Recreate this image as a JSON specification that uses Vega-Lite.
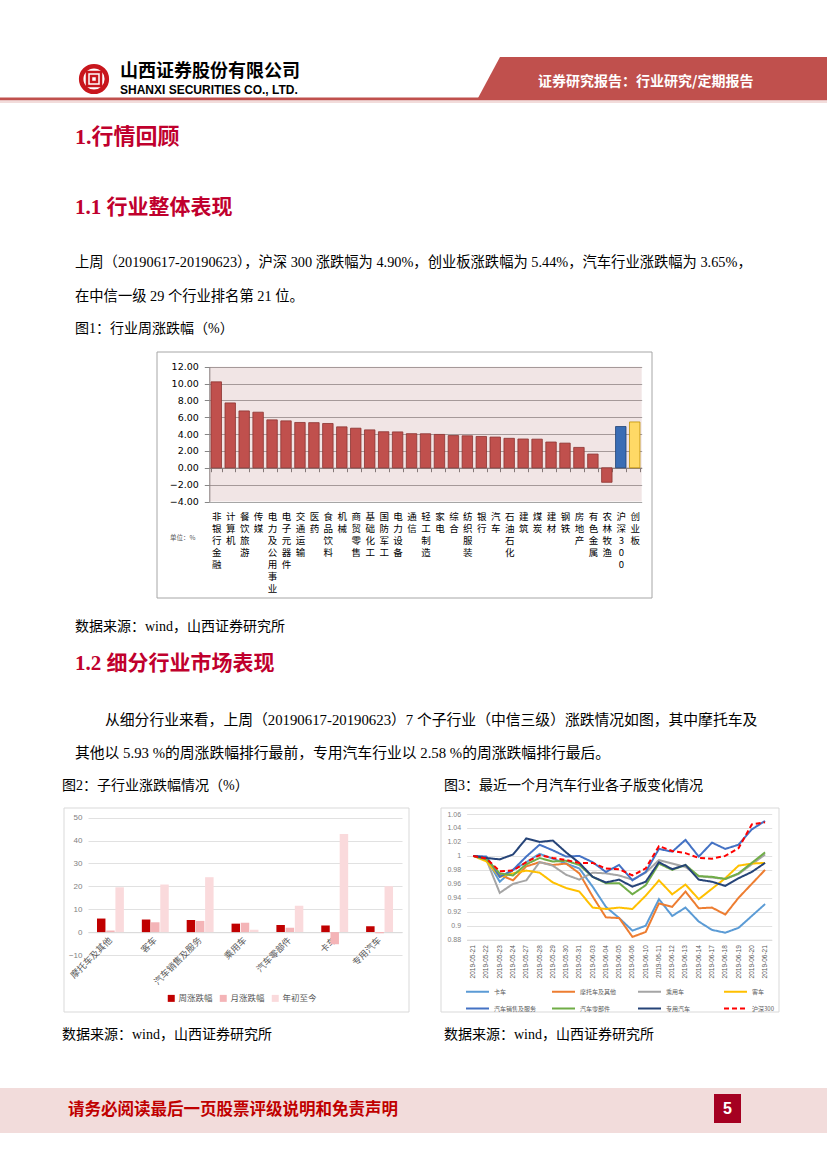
{
"$schema": "https://vega.github.io/schema/vega-lite/v6.json",
"width": 827, "height": 1169, "padding": 0, "autosize": {"type": "none"},
"background": "white",
"config": {"view": {"stroke": null}},
"data": {"values": [{}]},
"resolve": {"scale": {"x": "independent", "y": "independent", "color": "independent", "fill": "independent", "stroke": "independent", "strokeDash": "independent"}},
"layer": [
{"mark": {"type": "rect", "x": 0, "x2": 827, "y": 97.5, "y2": 100.5, "fill": "#C0504D"}},
{"mark": {"type": "rect", "x": 0, "x2": 827, "y": 100.5, "y2": 103, "fill": "#F2DCDB"}},
{"mark": {"type": "point", "shape": "M500,57L827,57L827,98L478,98Z", "size": 4, "x": 0, "y": 0, "filled": true, "fill": "#C0504D", "strokeWidth": 0, "opacity": 1}},
{"mark": {"type": "point", "shape": "circle", "size": 660, "x": 94, "y": 79, "filled": false, "stroke": "#C8161D", "strokeWidth": 4.5, "opacity": 1}},
{"mark": {"type": "point", "shape": "M-7,-7H7V7H-7Z M-3,-3H3V3H-3Z", "size": 4, "x": 94, "y": 79, "filled": false, "stroke": "#C8161D", "strokeWidth": 2.5, "opacity": 1}},
{"mark": {"type": "rect", "x": 157, "x2": 652, "y": 352, "y2": 598, "fill": null, "stroke": "#A6A6A6", "strokeWidth": 1}},
{"mark": {"type": "rect", "x": 209.3, "x2": 641.7, "y": 366.7, "y2": 501.5, "fill": "#A25252", "fillOpacity": 0.15}},
{"mark": {"type": "rect", "x": 64, "x2": 409, "y": 808, "y2": 1012, "fill": null, "stroke": "#D9D9D9", "strokeWidth": 1}},
{"mark": {"type": "rect", "x": 441, "x2": 779, "y": 808, "y2": 1012, "fill": null, "stroke": "#D9D9D9", "strokeWidth": 1}},
{"mark": {"type": "rule", "x": 73, "x2": 755, "y": 346.5, "y2": 346.5, "stroke": "#000000", "strokeWidth": 1.2}, "encoding": {}},
{"mark": {"type": "rule", "x": 73, "x2": 770, "y": 607.5, "y2": 607.5, "stroke": "#000000", "strokeWidth": 1.2}, "encoding": {}},
{"mark": {"type": "rule", "x": 60, "x2": 418, "y": 801, "y2": 801, "stroke": "#000000", "strokeWidth": 1.2}, "encoding": {}},
{"mark": {"type": "rule", "x": 441, "x2": 781, "y": 801, "y2": 801, "stroke": "#000000", "strokeWidth": 1.2}, "encoding": {}},
{"mark": {"type": "rect", "x": 0, "x2": 827, "y": 1088, "y2": 1133, "fill": "#F2DCDB"}},
{"mark": {"type": "rect", "x": 714, "x2": 741, "y": 1094, "y2": 1123, "fill": "#A50021"}},
{
"data": {"values": [
{"industry": "非银行金融", "value": 10.2, "group": "行业"},
{"industry": "计算机", "value": 7.7, "group": "行业"},
{"industry": "餐饮旅游", "value": 6.75, "group": "行业"},
{"industry": "传媒", "value": 6.6, "group": "行业"},
{"industry": "电力及公用事业", "value": 5.69, "group": "行业"},
{"industry": "电子元器件", "value": 5.57, "group": "行业"},
{"industry": "交通运输", "value": 5.38, "group": "行业"},
{"industry": "医药", "value": 5.36, "group": "行业"},
{"industry": "食品饮料", "value": 5.26, "group": "行业"},
{"industry": "机械", "value": 4.86, "group": "行业"},
{"industry": "商贸零售", "value": 4.7, "group": "行业"},
{"industry": "基础化工", "value": 4.5, "group": "行业"},
{"industry": "国防军工", "value": 4.28, "group": "行业"},
{"industry": "电力设备", "value": 4.26, "group": "行业"},
{"industry": "通信", "value": 4.05, "group": "行业"},
{"industry": "轻工制造", "value": 4.04, "group": "行业"},
{"industry": "家电", "value": 3.96, "group": "行业"},
{"industry": "综合", "value": 3.83, "group": "行业"},
{"industry": "纺织服装", "value": 3.8, "group": "行业"},
{"industry": "银行", "value": 3.72, "group": "行业"},
{"industry": "汽车", "value": 3.65, "group": "行业"},
{"industry": "石油石化", "value": 3.5, "group": "行业"},
{"industry": "建筑", "value": 3.42, "group": "行业"},
{"industry": "煤炭", "value": 3.4, "group": "行业"},
{"industry": "建材", "value": 3.06, "group": "行业"},
{"industry": "钢铁", "value": 2.93, "group": "行业"},
{"industry": "房地产", "value": 2.42, "group": "行业"},
{"industry": "有色金属", "value": 1.63, "group": "行业"},
{"industry": "农林牧渔", "value": -1.72, "group": "行业"},
{"industry": "沪深300", "value": 4.9, "group": "沪深300"},
{"industry": "创业板", "value": 5.44, "group": "创业板"}
]},
"mark": {"type": "bar", "strokeWidth": 0.8},
"encoding": {
"x": {"field": "industry", "type": "nominal", "sort": null,
"scale": {"type": "band", "range": [209.3, 641.7], "paddingInner": 0.25, "paddingOuter": 0.125},
"axis": {"orient": "bottom", "offset": -701.3, "title": null, "grid": false, "domainColor": "#7F7F7F", "ticks": true, "tickBand": "extent", "tickColor": "#7F7F7F", "tickSize": 4, "labelAngle": 0, "labelAlign": "center", "labelBaseline": "top", "labelExpr": "split(datum.label, '')", "labelFont": "Noto Sans CJK SC", "labelFontSize": 9.5, "labelLineHeight": 12, "labelPadding": 40, "labelColor": "#000000", "labelOverlap": false}},
"y": {"field": "value", "type": "quantitative",
"scale": {"domain": [-4, 12], "range": [501.5, 366.7], "nice": false, "zero": false},
"axis": {"orient": "left", "offset": -209.3, "title": null, "values": [-4, -2, 0, 2, 4, 6, 8, 10, 12], "format": ".2f", "grid": true, "gridColor": "#A6A6A6", "gridWidth": 1, "domain": true, "domainColor": "#868686", "ticks": true, "tickColor": "#868686", "tickSize": 5, "labelPadding": 6, "labelFont": "DejaVu Sans", "labelFontSize": 9.5, "labelColor": "#000000"}},
"fill": {"field": "group", "type": "nominal", "scale": {"domain": ["行业", "沪深300", "创业板"], "range": ["#C0504D", "#3A6DB5", "#FFD966"]}, "legend": null},
"stroke": {"field": "group", "type": "nominal", "scale": {"domain": ["行业", "沪深300", "创业板"], "range": ["#8C3331", "#1F4173", "#C09000"]}, "legend": null}
}
},
{
"data": {"values": [
{"sub": "摩托车及其他", "metric": "周涨跌幅", "value": 5.93},
{"sub": "摩托车及其他", "metric": "月涨跌幅", "value": 0.7},
{"sub": "摩托车及其他", "metric": "年初至今", "value": 19.6},
{"sub": "客车", "metric": "周涨跌幅", "value": 5.5},
{"sub": "客车", "metric": "月涨跌幅", "value": 4.3},
{"sub": "客车", "metric": "年初至今", "value": 20.8},
{"sub": "汽车销售及服务", "metric": "周涨跌幅", "value": 5.3},
{"sub": "汽车销售及服务", "metric": "月涨跌幅", "value": 4.9},
{"sub": "汽车销售及服务", "metric": "年初至今", "value": 24.0},
{"sub": "乘用车", "metric": "周涨跌幅", "value": 3.7},
{"sub": "乘用车", "metric": "月涨跌幅", "value": 4.1},
{"sub": "乘用车", "metric": "年初至今", "value": 1.0},
{"sub": "汽车零部件", "metric": "周涨跌幅", "value": 3.1},
{"sub": "汽车零部件", "metric": "月涨跌幅", "value": 1.9},
{"sub": "汽车零部件", "metric": "年初至今", "value": 11.5},
{"sub": "卡车", "metric": "周涨跌幅", "value": 2.9},
{"sub": "卡车", "metric": "月涨跌幅", "value": -5.3},
{"sub": "卡车", "metric": "年初至今", "value": 42.9},
{"sub": "专用汽车", "metric": "周涨跌幅", "value": 2.58},
{"sub": "专用汽车", "metric": "月涨跌幅", "value": -0.5},
{"sub": "专用汽车", "metric": "年初至今", "value": 20.0}
]},
"mark": {"type": "bar"},
"encoding": {
"x": {"field": "sub", "type": "nominal", "sort": null,
"scale": {"type": "band", "range": [88, 402], "paddingInner": 0.4, "paddingOuter": 0.2},
"axis": {"orient": "bottom", "offset": -236.8, "title": null, "grid": false, "domainColor": "#D9D9D9", "ticks": false, "labelAngle": -45, "labelAlign": "right", "labelBaseline": "middle", "labelPadding": 6, "labelFont": "Noto Sans CJK SC", "labelFontSize": 9, "labelColor": "#595959"}},
"xOffset": {"field": "metric", "type": "nominal", "sort": ["周涨跌幅", "月涨跌幅", "年初至今"], "scale": {"paddingInner": 0.08}},
"y": {"field": "value", "type": "quantitative",
"scale": {"domain": [-10, 50], "range": [955, 817.7], "nice": false, "zero": false},
"axis": {"orient": "left", "offset": -88, "title": null, "values": [-10, 0, 10, 20, 30, 40, 50], "grid": true, "gridColor": "#D9D9D9", "gridWidth": 0.8, "domain": false, "ticks": false, "labelPadding": 6, "labelFont": "Liberation Sans", "labelFontSize": 8, "labelColor": "#7F7F7F"}},
"color": {"field": "metric", "type": "nominal", "sort": ["周涨跌幅", "月涨跌幅", "年初至今"],
"scale": {"domain": ["周涨跌幅", "月涨跌幅", "年初至今"], "range": ["#C00000", "#F4B4B7", "#FADADC"]},
"legend": {"orient": "none", "legendX": 167, "legendY": 994, "direction": "horizontal", "title": null, "symbolType": "square", "symbolSize": 49, "symbolStrokeWidth": 0, "labelFont": "Noto Sans CJK SC", "labelFontSize": 8.5, "labelColor": "#595959", "columnPadding": 6, "labelOffset": 3}}
}
},
{
"data": {"values": [
{"date": "2019-05-21", "series": "卡车", "value": 1.000},
{"date": "2019-05-22", "series": "卡车", "value": 0.996},
{"date": "2019-05-23", "series": "卡车", "value": 0.963},
{"date": "2019-05-24", "series": "卡车", "value": 0.980},
{"date": "2019-05-27", "series": "卡车", "value": 0.991},
{"date": "2019-05-28", "series": "卡车", "value": 1.003},
{"date": "2019-05-29", "series": "卡车", "value": 0.996},
{"date": "2019-05-30", "series": "卡车", "value": 0.989},
{"date": "2019-05-31", "series": "卡车", "value": 0.982},
{"date": "2019-06-03", "series": "卡车", "value": 0.956},
{"date": "2019-06-04", "series": "卡车", "value": 0.927},
{"date": "2019-06-05", "series": "卡车", "value": 0.911},
{"date": "2019-06-06", "series": "卡车", "value": 0.893},
{"date": "2019-06-10", "series": "卡车", "value": 0.900},
{"date": "2019-06-11", "series": "卡车", "value": 0.938},
{"date": "2019-06-12", "series": "卡车", "value": 0.914},
{"date": "2019-06-13", "series": "卡车", "value": 0.926},
{"date": "2019-06-14", "series": "卡车", "value": 0.906},
{"date": "2019-06-17", "series": "卡车", "value": 0.894},
{"date": "2019-06-18", "series": "卡车", "value": 0.890},
{"date": "2019-06-19", "series": "卡车", "value": 0.897},
{"date": "2019-06-20", "series": "卡车", "value": 0.914},
{"date": "2019-06-21", "series": "卡车", "value": 0.931},
{"date": "2019-05-21", "series": "摩托车及其他", "value": 1.000},
{"date": "2019-05-22", "series": "摩托车及其他", "value": 0.996},
{"date": "2019-05-23", "series": "摩托车及其他", "value": 0.973},
{"date": "2019-05-24", "series": "摩托车及其他", "value": 0.965},
{"date": "2019-05-27", "series": "摩托车及其他", "value": 0.985},
{"date": "2019-05-28", "series": "摩托车及其他", "value": 0.991},
{"date": "2019-05-29", "series": "摩托车及其他", "value": 0.987},
{"date": "2019-05-30", "series": "摩托车及其他", "value": 0.989},
{"date": "2019-05-31", "series": "摩托车及其他", "value": 0.975},
{"date": "2019-06-03", "series": "摩托车及其他", "value": 0.942},
{"date": "2019-06-04", "series": "摩托车及其他", "value": 0.912},
{"date": "2019-06-05", "series": "摩托车及其他", "value": 0.911},
{"date": "2019-06-06", "series": "摩托车及其他", "value": 0.884},
{"date": "2019-06-10", "series": "摩托车及其他", "value": 0.891},
{"date": "2019-06-11", "series": "摩托车及其他", "value": 0.932},
{"date": "2019-06-12", "series": "摩托车及其他", "value": 0.927},
{"date": "2019-06-13", "series": "摩托车及其他", "value": 0.949},
{"date": "2019-06-14", "series": "摩托车及其他", "value": 0.925},
{"date": "2019-06-17", "series": "摩托车及其他", "value": 0.926},
{"date": "2019-06-18", "series": "摩托车及其他", "value": 0.916},
{"date": "2019-06-19", "series": "摩托车及其他", "value": 0.940},
{"date": "2019-06-20", "series": "摩托车及其他", "value": 0.960},
{"date": "2019-06-21", "series": "摩托车及其他", "value": 0.980},
{"date": "2019-05-21", "series": "乘用车", "value": 1.000},
{"date": "2019-05-22", "series": "乘用车", "value": 0.994},
{"date": "2019-05-23", "series": "乘用车", "value": 0.947},
{"date": "2019-05-24", "series": "乘用车", "value": 0.960},
{"date": "2019-05-27", "series": "乘用车", "value": 0.965},
{"date": "2019-05-28", "series": "乘用车", "value": 0.991},
{"date": "2019-05-29", "series": "乘用车", "value": 0.986},
{"date": "2019-05-30", "series": "乘用车", "value": 0.973},
{"date": "2019-05-31", "series": "乘用车", "value": 0.966},
{"date": "2019-06-03", "series": "乘用车", "value": 0.976},
{"date": "2019-06-04", "series": "乘用车", "value": 0.975},
{"date": "2019-06-05", "series": "乘用车", "value": 0.972},
{"date": "2019-06-06", "series": "乘用车", "value": 0.966},
{"date": "2019-06-10", "series": "乘用车", "value": 0.976},
{"date": "2019-06-11", "series": "乘用车", "value": 0.994},
{"date": "2019-06-12", "series": "乘用车", "value": 0.989},
{"date": "2019-06-13", "series": "乘用车", "value": 0.984},
{"date": "2019-06-14", "series": "乘用车", "value": 0.971},
{"date": "2019-06-17", "series": "乘用车", "value": 0.969},
{"date": "2019-06-18", "series": "乘用车", "value": 0.967},
{"date": "2019-06-19", "series": "乘用车", "value": 0.974},
{"date": "2019-06-20", "series": "乘用车", "value": 0.988},
{"date": "2019-06-21", "series": "乘用车", "value": 1.002},
{"date": "2019-05-21", "series": "客车", "value": 1.000},
{"date": "2019-05-22", "series": "客车", "value": 0.992},
{"date": "2019-05-23", "series": "客车", "value": 0.970},
{"date": "2019-05-24", "series": "客车", "value": 0.975},
{"date": "2019-05-27", "series": "客车", "value": 0.979},
{"date": "2019-05-28", "series": "客车", "value": 0.976},
{"date": "2019-05-29", "series": "客车", "value": 0.962},
{"date": "2019-05-30", "series": "客车", "value": 0.954},
{"date": "2019-05-31", "series": "客车", "value": 0.949},
{"date": "2019-06-03", "series": "客车", "value": 0.926},
{"date": "2019-06-04", "series": "客车", "value": 0.924},
{"date": "2019-06-05", "series": "客车", "value": 0.926},
{"date": "2019-06-06", "series": "客车", "value": 0.924},
{"date": "2019-06-10", "series": "客车", "value": 0.943},
{"date": "2019-06-11", "series": "客车", "value": 0.965},
{"date": "2019-06-12", "series": "客车", "value": 0.945},
{"date": "2019-06-13", "series": "客车", "value": 0.959},
{"date": "2019-06-14", "series": "客车", "value": 0.938},
{"date": "2019-06-17", "series": "客车", "value": 0.953},
{"date": "2019-06-18", "series": "客车", "value": 0.968},
{"date": "2019-06-19", "series": "客车", "value": 0.986},
{"date": "2019-06-20", "series": "客车", "value": 0.989},
{"date": "2019-06-21", "series": "客车", "value": 0.990},
{"date": "2019-05-21", "series": "汽车销售及服务", "value": 1.000},
{"date": "2019-05-22", "series": "汽车销售及服务", "value": 0.999},
{"date": "2019-05-23", "series": "汽车销售及服务", "value": 0.970},
{"date": "2019-05-24", "series": "汽车销售及服务", "value": 0.980},
{"date": "2019-05-27", "series": "汽车销售及服务", "value": 0.999},
{"date": "2019-05-28", "series": "汽车销售及服务", "value": 1.016},
{"date": "2019-05-29", "series": "汽车销售及服务", "value": 1.008},
{"date": "2019-05-30", "series": "汽车销售及服务", "value": 0.999},
{"date": "2019-05-31", "series": "汽车销售及服务", "value": 1.000},
{"date": "2019-06-03", "series": "汽车销售及服务", "value": 0.991},
{"date": "2019-06-04", "series": "汽车销售及服务", "value": 0.977},
{"date": "2019-06-05", "series": "汽车销售及服务", "value": 0.987},
{"date": "2019-06-06", "series": "汽车销售及服务", "value": 0.965},
{"date": "2019-06-10", "series": "汽车销售及服务", "value": 0.977},
{"date": "2019-06-11", "series": "汽车销售及服务", "value": 1.010},
{"date": "2019-06-12", "series": "汽车销售及服务", "value": 1.006},
{"date": "2019-06-13", "series": "汽车销售及服务", "value": 1.023},
{"date": "2019-06-14", "series": "汽车销售及服务", "value": 0.999},
{"date": "2019-06-17", "series": "汽车销售及服务", "value": 1.019},
{"date": "2019-06-18", "series": "汽车销售及服务", "value": 1.010},
{"date": "2019-06-19", "series": "汽车销售及服务", "value": 1.016},
{"date": "2019-06-20", "series": "汽车销售及服务", "value": 1.038},
{"date": "2019-06-21", "series": "汽车销售及服务", "value": 1.050},
{"date": "2019-05-21", "series": "汽车零部件", "value": 1.000},
{"date": "2019-05-22", "series": "汽车零部件", "value": 0.995},
{"date": "2019-05-23", "series": "汽车零部件", "value": 0.975},
{"date": "2019-05-24", "series": "汽车零部件", "value": 0.972},
{"date": "2019-05-27", "series": "汽车零部件", "value": 0.988},
{"date": "2019-05-28", "series": "汽车零部件", "value": 0.997},
{"date": "2019-05-29", "series": "汽车零部件", "value": 0.992},
{"date": "2019-05-30", "series": "汽车零部件", "value": 0.993},
{"date": "2019-05-31", "series": "汽车零部件", "value": 0.987},
{"date": "2019-06-03", "series": "汽车零部件", "value": 0.970},
{"date": "2019-06-04", "series": "汽车零部件", "value": 0.961},
{"date": "2019-06-05", "series": "汽车零部件", "value": 0.961},
{"date": "2019-06-06", "series": "汽车零部件", "value": 0.945},
{"date": "2019-06-10", "series": "汽车零部件", "value": 0.958},
{"date": "2019-06-11", "series": "汽车零部件", "value": 0.989},
{"date": "2019-06-12", "series": "汽车零部件", "value": 0.980},
{"date": "2019-06-13", "series": "汽车零部件", "value": 0.987},
{"date": "2019-06-14", "series": "汽车零部件", "value": 0.971},
{"date": "2019-06-17", "series": "汽车零部件", "value": 0.970},
{"date": "2019-06-18", "series": "汽车零部件", "value": 0.967},
{"date": "2019-06-19", "series": "汽车零部件", "value": 0.975},
{"date": "2019-06-20", "series": "汽车零部件", "value": 0.990},
{"date": "2019-06-21", "series": "汽车零部件", "value": 1.005},
{"date": "2019-05-21", "series": "专用汽车", "value": 1.000},
{"date": "2019-05-22", "series": "专用汽车", "value": 0.997},
{"date": "2019-05-23", "series": "专用汽车", "value": 0.995},
{"date": "2019-05-24", "series": "专用汽车", "value": 1.002},
{"date": "2019-05-27", "series": "专用汽车", "value": 1.025},
{"date": "2019-05-28", "series": "专用汽车", "value": 1.020},
{"date": "2019-05-29", "series": "专用汽车", "value": 1.022},
{"date": "2019-05-30", "series": "专用汽车", "value": 1.005},
{"date": "2019-05-31", "series": "专用汽车", "value": 0.990},
{"date": "2019-06-03", "series": "专用汽车", "value": 0.970},
{"date": "2019-06-04", "series": "专用汽车", "value": 0.962},
{"date": "2019-06-05", "series": "专用汽车", "value": 0.966},
{"date": "2019-06-06", "series": "专用汽车", "value": 0.956},
{"date": "2019-06-10", "series": "专用汽车", "value": 0.963},
{"date": "2019-06-11", "series": "专用汽车", "value": 0.991},
{"date": "2019-06-12", "series": "专用汽车", "value": 0.981},
{"date": "2019-06-13", "series": "专用汽车", "value": 0.987},
{"date": "2019-06-14", "series": "专用汽车", "value": 0.966},
{"date": "2019-06-17", "series": "专用汽车", "value": 0.963},
{"date": "2019-06-18", "series": "专用汽车", "value": 0.957},
{"date": "2019-06-19", "series": "专用汽车", "value": 0.968},
{"date": "2019-06-20", "series": "专用汽车", "value": 0.977},
{"date": "2019-06-21", "series": "专用汽车", "value": 0.990},
{"date": "2019-05-21", "series": "沪深300", "value": 1.000},
{"date": "2019-05-22", "series": "沪深300", "value": 0.996},
{"date": "2019-05-23", "series": "沪深300", "value": 0.978},
{"date": "2019-05-24", "series": "沪深300", "value": 0.979},
{"date": "2019-05-27", "series": "沪深300", "value": 0.991},
{"date": "2019-05-28", "series": "沪深300", "value": 1.001},
{"date": "2019-05-29", "series": "沪深300", "value": 0.997},
{"date": "2019-05-30", "series": "沪深300", "value": 0.994},
{"date": "2019-05-31", "series": "沪深300", "value": 0.990},
{"date": "2019-06-03", "series": "沪深300", "value": 0.990},
{"date": "2019-06-04", "series": "沪深300", "value": 0.982},
{"date": "2019-06-05", "series": "沪深300", "value": 0.981},
{"date": "2019-06-06", "series": "沪深300", "value": 0.972},
{"date": "2019-06-10", "series": "沪深300", "value": 0.982},
{"date": "2019-06-11", "series": "沪深300", "value": 1.014},
{"date": "2019-06-12", "series": "沪深300", "value": 1.007},
{"date": "2019-06-13", "series": "沪深300", "value": 1.004},
{"date": "2019-06-14", "series": "沪深300", "value": 0.997},
{"date": "2019-06-17", "series": "沪深300", "value": 0.996},
{"date": "2019-06-18", "series": "沪深300", "value": 1.000},
{"date": "2019-06-19", "series": "沪深300", "value": 1.011},
{"date": "2019-06-20", "series": "沪深300", "value": 1.045},
{"date": "2019-06-21", "series": "沪深300", "value": 1.048}
]},
"mark": {"type": "line", "strokeWidth": 2},
"encoding": {
"x": {"field": "date", "type": "ordinal", "sort": null,
"scale": {"type": "band", "range": [466.6, 771.7], "paddingInner": 0, "paddingOuter": 0},
"axis": {"orient": "bottom", "offset": -229.3, "title": null, "grid": false, "domainColor": "#D9D9D9", "ticks": false, "labelAngle": 270, "labelAlign": "right", "labelBaseline": "middle", "labelPadding": 5, "labelFont": "Liberation Sans", "labelFontSize": 6.5, "labelColor": "#595959"}},
"y": {"field": "value", "type": "quantitative",
"scale": {"domain": [0.88, 1.06], "range": [939.7, 814], "nice": false, "zero": false},
"axis": {"orient": "left", "offset": -466.6, "title": null, "values": [0.88, 0.9, 0.92, 0.94, 0.96, 0.98, 1, 1.02, 1.04, 1.06], "labelExpr": "toString(round(datum.value*100)/100)", "grid": true, "gridColor": "#D9D9D9", "gridWidth": 0.8, "domain": false, "ticks": false, "labelPadding": 6, "labelFont": "Liberation Sans", "labelFontSize": 7, "labelColor": "#7F7F7F"}},
"color": {"field": "series", "type": "nominal", "sort": null,
"scale": {"domain": ["卡车", "摩托车及其他", "乘用车", "客车", "汽车销售及服务", "汽车零部件", "专用汽车", "沪深300"], "range": ["#5B9BD5", "#ED7D31", "#A5A5A5", "#FFC000", "#4472C4", "#70AD47", "#264478", "#FF0000"]},
"legend": {"orient": "none", "legendX": 465, "legendY": 979, "direction": "horizontal", "columns": 4, "gridAlign": "all", "title": null, "symbolType": "stroke", "symbolSize": 529, "symbolStrokeWidth": 2, "labelFont": "Noto Sans CJK SC", "labelFontSize": 6, "labelColor": "#595959", "columnPadding": 11, "rowPadding": -21, "labelOffset": 4}},
"strokeDash": {"field": "series", "type": "nominal", "sort": null,
"scale": {"domain": ["卡车", "摩托车及其他", "乘用车", "客车", "汽车销售及服务", "汽车零部件", "专用汽车", "沪深300"], "range": [[1, 0], [1, 0], [1, 0], [1, 0], [1, 0], [1, 0], [1, 0], [5, 3]]},
"legend": {"orient": "none", "legendX": 465, "legendY": 979, "direction": "horizontal", "columns": 4, "gridAlign": "all", "title": null, "symbolType": "stroke", "symbolSize": 529, "symbolStrokeWidth": 2, "labelFont": "Noto Sans CJK SC", "labelFontSize": 6, "labelColor": "#595959", "columnPadding": 11, "rowPadding": -21, "labelOffset": 4}}
}
},
{"mark": {"type": "text", "x": 120, "y": 72, "text": "山西证券股份有限公司", "align": "left", "baseline": "middle", "font": "Noto Sans CJK SC", "fontSize": 18, "fontWeight": "bold", "color": "#000000"}},
{"mark": {"type": "text", "x": 120, "y": 90, "text": "SHANXI SECURITIES CO., LTD.", "align": "left", "baseline": "middle", "font": "Liberation Sans", "fontSize": 12, "fontWeight": "bold", "color": "#000000"}},
{"mark": {"type": "text", "x": 538, "y": 82, "text": "证券研究报告：行业研究/定期报告", "align": "left", "baseline": "middle", "font": "Noto Sans CJK SC", "fontSize": 14, "fontWeight": "bold", "color": "#FFFFFF"}},
{"mark": {"type": "text", "x": 75, "y": 137, "text": "1.行情回顾", "align": "left", "baseline": "middle", "font": "Liberation Serif, Noto Sans CJK SC", "fontSize": 22, "fontWeight": "bold", "color": "#C0002D"}},
{"mark": {"type": "text", "x": 75, "y": 208, "text": "1.1 行业整体表现", "align": "left", "baseline": "middle", "font": "Liberation Serif, Noto Sans CJK SC", "fontSize": 21, "fontWeight": "bold", "color": "#C0002D"}},
{"mark": {"type": "text", "x": 75, "y": 263, "text": "上周（20190617-20190623），沪深 300 涨跌幅为 4.90%，创业板涨跌幅为 5.44%，汽车行业涨跌幅为 3.65%，", "align": "left", "baseline": "middle", "font": "Liberation Serif, Noto Sans CJK SC", "fontSize": 14.3, "color": "#000000"}},
{"mark": {"type": "text", "x": 75, "y": 297, "text": "在中信一级 29 个行业排名第 21 位。", "align": "left", "baseline": "middle", "font": "Liberation Serif, Noto Sans CJK SC", "fontSize": 14.3, "color": "#000000"}},
{"mark": {"type": "text", "x": 75, "y": 329, "text": "图1：行业周涨跌幅（%）", "align": "left", "baseline": "middle", "font": "Liberation Serif, Noto Sans CJK SC", "fontSize": 14, "color": "#000000"}},
{"mark": {"type": "text", "x": 170, "y": 538, "text": "单位：%", "align": "left", "baseline": "middle", "font": "Noto Sans CJK SC", "fontSize": 6.5, "color": "#595959"}},
{"mark": {"type": "text", "x": 75, "y": 627, "text": "数据来源：wind，山西证券研究所", "align": "left", "baseline": "middle", "font": "Liberation Serif, Noto Sans CJK SC", "fontSize": 14, "color": "#000000"}},
{"mark": {"type": "text", "x": 75, "y": 664, "text": "1.2 细分行业市场表现", "align": "left", "baseline": "middle", "font": "Liberation Serif, Noto Sans CJK SC", "fontSize": 21, "fontWeight": "bold", "color": "#C0002D"}},
{"mark": {"type": "text", "x": 105, "y": 721, "text": "从细分行业来看，上周（20190617-20190623）7 个子行业（中信三级）涨跌情况如图，其中摩托车及", "align": "left", "baseline": "middle", "font": "Liberation Serif, Noto Sans CJK SC", "fontSize": 14.8, "color": "#000000"}},
{"mark": {"type": "text", "x": 75, "y": 754, "text": "其他以 5.93 %的周涨跌幅排行最前，专用汽车行业以 2.58 %的周涨跌幅排行最后。", "align": "left", "baseline": "middle", "font": "Liberation Serif, Noto Sans CJK SC", "fontSize": 14.8, "color": "#000000"}},
{"mark": {"type": "text", "x": 62, "y": 786, "text": "图2：子行业涨跌幅情况（%）", "align": "left", "baseline": "middle", "font": "Liberation Serif, Noto Sans CJK SC", "fontSize": 14, "color": "#000000"}},
{"mark": {"type": "text", "x": 444, "y": 786, "text": "图3：最近一个月汽车行业各子版变化情况", "align": "left", "baseline": "middle", "font": "Liberation Serif, Noto Sans CJK SC", "fontSize": 14, "color": "#000000"}},
{"mark": {"type": "text", "x": 62, "y": 1035, "text": "数据来源：wind，山西证券研究所", "align": "left", "baseline": "middle", "font": "Liberation Serif, Noto Sans CJK SC", "fontSize": 14, "color": "#000000"}},
{"mark": {"type": "text", "x": 444, "y": 1035, "text": "数据来源：wind，山西证券研究所", "align": "left", "baseline": "middle", "font": "Liberation Serif, Noto Sans CJK SC", "fontSize": 14, "color": "#000000"}},
{"mark": {"type": "text", "x": 68, "y": 1110, "text": "请务必阅读最后一页股票评级说明和免责声明", "align": "left", "baseline": "middle", "font": "Noto Sans CJK SC", "fontSize": 16.5, "fontWeight": "bold", "color": "#C00000"}},
{"mark": {"type": "text", "x": 727.5, "y": 1109, "text": "5", "align": "center", "baseline": "middle", "font": "Liberation Sans", "fontSize": 16, "fontWeight": "bold", "color": "#FFFFFF"}}
]
}
